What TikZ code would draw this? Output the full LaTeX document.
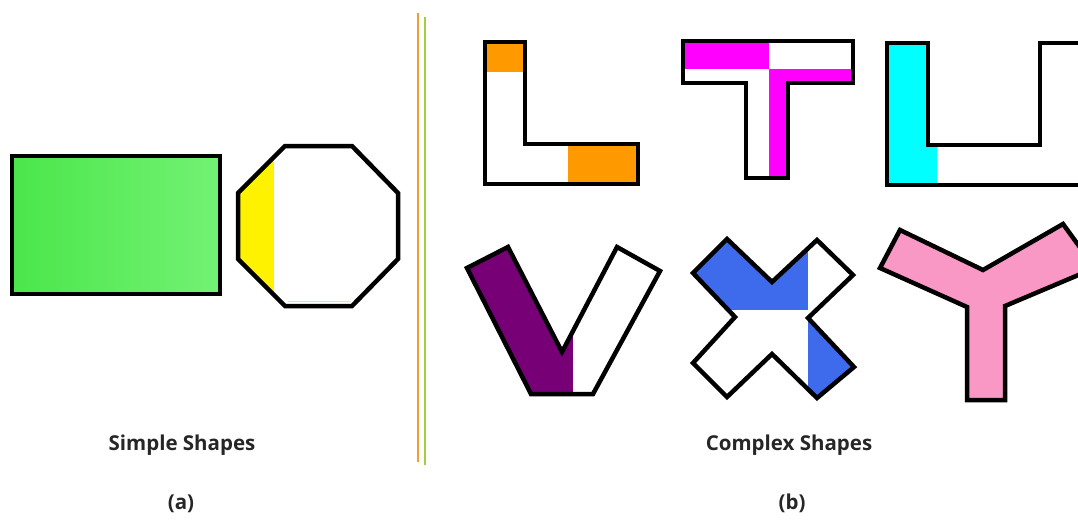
\documentclass[tikz,border=0pt]{standalone}
\usepackage{fontspec}
\setmainfont{Open Sans}
\usepackage{xcolor}
\definecolor{rectgreenA}{RGB}{75,230,75}
\definecolor{rectgreenB}{RGB}{115,242,115}
\definecolor{lorange}{RGB}{255,153,0}
\definecolor{tmagenta}{RGB}{255,0,255}
\definecolor{ucyan}{RGB}{0,255,255}
\definecolor{vpurple}{RGB}{119,0,119}
\definecolor{xblue}{RGB}{61,107,235}
\definecolor{ypink}{RGB}{249,152,196}
\definecolor{sepo}{RGB}{240,160,50}
\definecolor{sepg}{RGB}{160,208,64}
\tikzset{
  outline/.style={draw=black, line width=4.5pt, line join=miter},
  caption/.style={font=\fontsize{20.5}{24}\selectfont\bfseries, text=black!85},
}

\begin{document}
\begin{tikzpicture}[x=1pt,y=-1pt]

\useasboundingbox (0,0) rectangle (1078,519);
\clip (0,0) rectangle (1078,519);

% Rectangle
\shade[left color=rectgreenA, right color=rectgreenB] (12,156) rectangle (220,294);
\draw[outline] (12,156) rectangle (220,294);

% Octagon
\begin{scope}
\clip (285,146) -- (352,146) -- (398,193) -- (398,259) -- (352,306) -- (285,306) -- (238,259) -- (238,193) -- cycle;
\fill[yellow] (230,140) rectangle (274,310);
\end{scope}
\draw[yellow, line width=1.5pt] (288,301.5) -- (350,301.5);
\draw[outline] (285,146) -- (352,146) -- (398,193) -- (398,259) -- (352,306) -- (285,306) -- (238,259) -- (238,193) -- cycle;

% Separator
\draw[sepo, line width=2pt] (418,13) -- (418,462);
\draw[sepg, line width=2pt] (425,17) -- (425,465);

% L
\fill[lorange] (485,42) rectangle (525,72);
\fill[lorange] (568,144) rectangle (638,184);
\draw[outline] (485,42) -- (525,42) -- (525,144) -- (638,144) -- (638,184) -- (485,184) -- cycle;

% T
\fill[tmagenta] (683,41) rectangle (769,69);
\fill[tmagenta] (769,69) -- (853,69) -- (853,83) -- (788,83) -- (788,178) -- (769,178) -- cycle;
\draw[outline] (683,41) -- (853,41) -- (853,83) -- (788,83) -- (788,178) -- (746,178) -- (746,83) -- (683,83) -- cycle;

% U
\fill[ucyan] (887,43) -- (928,43) -- (928,145) -- (937,145) -- (937,185) -- (887,185) -- cycle;
\draw[outline] (887,43) -- (928,43) -- (928,145) -- (1040,145) -- (1040,43) -- (1100,43) -- (1100,185) -- (887,185) -- cycle;

% V
\begin{scope}
\clip (467,268) -- (508,247) -- (562,352) -- (617,247) -- (660,271) -- (593,394) -- (531,394) -- cycle;
\fill[vpurple] (450,240) rectangle (573,400);
\end{scope}
\draw[outline] (467,268) -- (508,247) -- (562,352) -- (617,247) -- (660,271) -- (593,394) -- (531,394) -- cycle;

% X
\begin{scope}
\clip (727,239) -- (772,282) -- (817,240) -- (853,275) -- (808,318) -- (854,367) -- (817,398) -- (772,354) -- (727,397) -- (693,363) -- (735,317) -- (693,273) -- cycle;
\fill[xblue] (680,230) rectangle (808,310);
\fill[xblue] (808,316) rectangle (870,410);
\end{scope}
\draw[outline] (727,239) -- (772,282) -- (817,240) -- (853,275) -- (808,318) -- (854,367) -- (817,398) -- (772,354) -- (727,397) -- (693,363) -- (735,317) -- (693,273) -- cycle;

% Y
\filldraw[outline, fill=ypink] (900,230) -- (983,270) -- (1063,224) -- (1095,268) -- (1005,306) -- (1005,400) -- (967,400) -- (967,307) -- (880,268) -- cycle;

% Labels
\node[caption] (simple) at (182,445) {Simple Shapes};
\node[caption] (suba) at (181,504) {(a)};
\node[caption] (complex) at (789,445) {Complex Shapes};
\node[caption] (subb) at (792,503) {(b)};

\end{tikzpicture}
\end{document}
